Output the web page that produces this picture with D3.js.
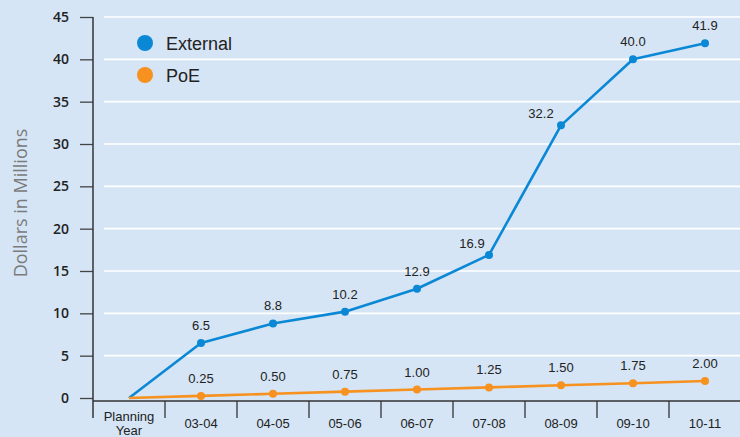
<!DOCTYPE html>
<html lang="en">

<head>
    <meta charset="UTF-8">
    <title>External vs PoE</title>

    <script src="https://d3js.org/d3.v7.min.js"></script>

    <style>
        body {
            margin: 0;
            background: #d5e5f5;
        }

        .valueLabel {
            font-family: "Liberation Sans", Arial, sans-serif;
            font-size: 13px;
            fill: #222;
        }

        .xLabel {
            font-family: "Liberation Sans", Arial, sans-serif;
            font-size: 13px;
            fill: #222;
        }
    </style>

</head>

<body>
    <svg width="740" height="437"></svg>

    <script>
        const categories = ["Planning Year", "03-04", "04-05", "05-06", "06-07", "07-08", "08-09", "09-10", "10-11"];
        const externalValues = [0, 6.5, 8.8, 10.2, 12.9, 16.9, 32.2, 40.0, 41.9];
        const poeValues = [0, 0.25, 0.50, 0.75, 1.00, 1.25, 1.50, 1.75, 2.00];
        const yTicks = [0, 5, 10, 15, 20, 25, 30, 35, 40, 45];

        const blue = "#0b88d5";
        const orange = "#f7911f";

        let svg = d3.select("svg");

        svg.append("rect")
            .attr("width", 740)
            .attr("height", 437)
            .attr("fill", "#d5e5f5");

        let x = d3.scaleBand().domain(categories).range([93, 741]);
        let y = d3.scaleLinear().domain([0, 45]).range([398, 17]);
        const cx = function (d, i) { return x(categories[i]) + x.bandwidth() / 2 };

        // white gridlines
        svg.append("g")
            .selectAll("line")
            .data(yTicks.filter(function (t) { return t > 0 }))
            .enter()
            .append("line")
            .attr("x1", 104)
            .attr("x2", 740)
            .attr("y1", function (d) { return y(d) })
            .attr("y2", function (d) { return y(d) })
            .attr("stroke", "#ffffff")
            .attr("stroke-width", 1.6);

        // y axis
        let yAxis = svg.append("g")
            .attr("transform", "translate(93,0)")
            .call(d3.axisLeft(y).tickValues(yTicks).tickSize(13).tickPadding(11));
        yAxis.select(".domain").remove();
        yAxis.selectAll(".tick line").attr("stroke", "#444").attr("stroke-width", 1.3);
        yAxis.selectAll(".tick text")
            .attr("fill", "#222")
            .style("font-family", "'Open Sans', sans-serif")
            .style("font-size", "14px")
            .style("font-weight", 600);

        svg.append("line")
            .attr("x1", 93).attr("x2", 93)
            .attr("y1", y(45)).attr("y2", 418)
            .attr("stroke", "#333")
            .attr("stroke-width", 1.5);

        // x axis line and band separators
        svg.append("line")
            .attr("x1", 93).attr("x2", 740)
            .attr("y1", 401).attr("y2", 401)
            .attr("stroke", "#333")
            .attr("stroke-width", 1.5);

        svg.append("g")
            .selectAll("line")
            .data(categories.slice(1))
            .enter()
            .append("line")
            .attr("x1", function (d) { return x(d) })
            .attr("x2", function (d) { return x(d) })
            .attr("y1", 401)
            .attr("y2", 418)
            .attr("stroke", "#333")
            .attr("stroke-width", 1.3);

        let xLabels = svg.append("g")
            .selectAll("text")
            .data(categories)
            .enter()
            .append("text")
            .attr("class", "xLabel")
            .attr("text-anchor", "middle")
            .attr("x", function (d) { return x(d) + x.bandwidth() / 2 })
            .attr("y", 428);

        xLabels.each(function (d) {
            let words = d.split(" ");
            let t = d3.select(this);
            if (words.length > 1) {
                t.attr("y", 421);
                words.forEach(function (w, i) {
                    t.append("tspan")
                        .attr("x", x(d) + x.bandwidth() / 2)
                        .attr("dy", i === 0 ? 0 : 14)
                        .text(w);
                });
            } else {
                t.text(d);
            }
        });

        // axis title
        svg.append("text")
            .attr("transform", "translate(27,203) rotate(-90)")
            .attr("text-anchor", "middle")
            .style("font-family", "'Open Sans', sans-serif")
            .style("font-size", "18px")
            .attr("fill", "#7b7b7b")
            .text("Dollars in Millions");

        // lines
        let line = d3.line()
            .x(cx)
            .y(function (d) { return y(d) });

        function drawSeries(values, color, fmt, shifts) {
            svg.append("path")
                .datum(values)
                .attr("d", line)
                .attr("fill", "none")
                .attr("stroke", color)
                .attr("stroke-width", 2.6)
                .attr("stroke-linejoin", "round");

            svg.append("g")
                .selectAll("circle")
                .data(values.slice(1))
                .enter()
                .append("circle")
                .attr("cx", function (d, i) { return cx(d, i + 1) })
                .attr("cy", function (d) { return y(d) })
                .attr("r", 4)
                .attr("fill", color);

            svg.append("g")
                .selectAll("text")
                .data(values.slice(1))
                .enter()
                .append("text")
                .attr("class", "valueLabel")
                .attr("text-anchor", "middle")
                .attr("x", function (d, i) {
                    let s = shifts[categories[i + 1]];
                    return cx(d, i + 1) + (s ? s[0] : 0);
                })
                .attr("y", function (d, i) {
                    let s = shifts[categories[i + 1]];
                    return y(d) + (s ? s[1] : -13);
                })
                .text(function (d) { return fmt(d) });
        }

        // steep segments push a couple of labels up-left
        drawSeries(externalValues, blue, d3.format(".1f"), { "07-08": [-17, -7], "08-09": [-20, -7] });
        drawSeries(poeValues, orange, d3.format(".2f"), {});

        // legend
        let legend = svg.append("g");
        [["External", blue], ["PoE", orange]].forEach(function (item, i) {
            legend.append("circle")
                .attr("cx", 145)
                .attr("cy", 43 + i * 32)
                .attr("r", 8)
                .attr("fill", item[1]);
            legend.append("text")
                .attr("x", 166)
                .attr("y", 49.5 + i * 32)
                .style("font-family", "'Liberation Sans', Arial, sans-serif")
                .style("font-size", "18px")
                .attr("fill", "#222")
                .text(item[0]);
        });
    </script>
</body>

</html>
